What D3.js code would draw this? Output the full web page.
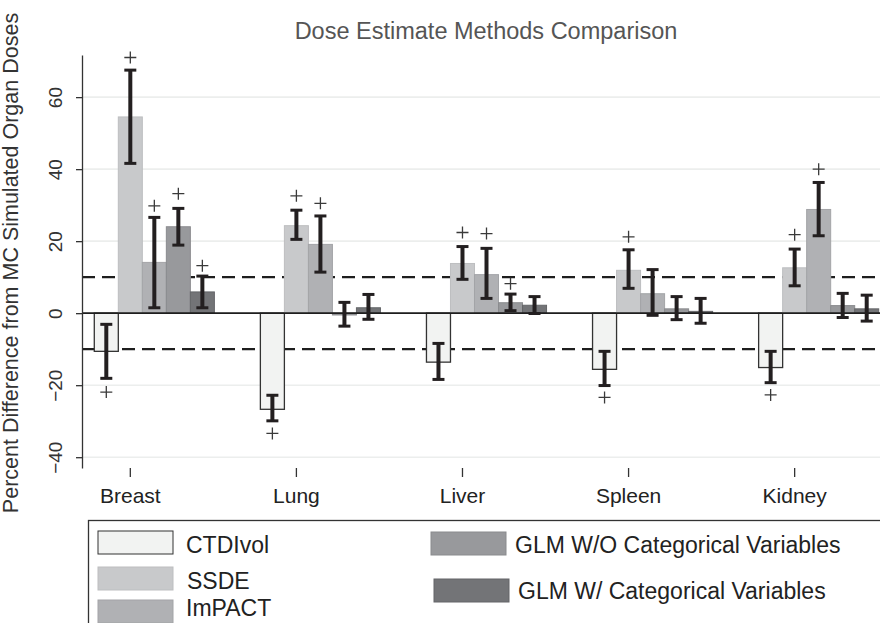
<!DOCTYPE html>
<html>
<head>
<meta charset="utf-8">
<script src="https://cdn.jsdelivr.net/npm/d3@7"></script>
<style>
  body { margin: 0; background: #fff; }
  svg { display: block; font-family: "Liberation Sans", Arial, sans-serif; }
</style>
</head>
<body>
<script>
// organs on the x axis
var organs = ["Breast", "Lung", "Liver", "Spleen", "Kidney"];
var methods = ["CTDIvol", "SSDE", "ImPACT", "GLM W/O Categorical Variables", "GLM W/ Categorical Variables"];

// mean percent difference, one array per method (same order as organs)
var ctdiVol = [-10.6, -26.7, -13.6, -15.6, -15.1];
var ssde = [54.5, 24.3, 13.8, 11.9, 12.6];
var impact = [14.1, 19.1, 10.7, 5.4, 28.8];
var glmWo = [24.0, -0.5, 2.9, 1.2, 2.1];
var glmW = [5.9, 1.5, 2.2, 0.5, 1.2];

// error bar ends
var ctdiLow = [-18.1, -29.9, -18.4, -20.1, -19.3];
var ctdiHigh = [-3.1, -22.8, -8.4, -10.6, -10.6];
var ssdeLow = [41.6, 20.5, 9.4, 6.9, 7.6];
var ssdeHigh = [67.5, 28.6, 18.5, 17.6, 17.8];
var impactLow = [1.5, 11.4, 4.1, -0.6, 21.5];
var impactHigh = [26.6, 27.0, 18.0, 12.1, 36.3];
var glmWoLow = [18.9, -3.6, 0.7, -1.8, -1.2];
var glmWoHigh = [29.1, 3.0, 5.3, 4.6, 5.5];
var glmWLow = [1.5, -1.7, -0.1, -2.8, -2.2];
var glmWHigh = [10.3, 5.2, 4.6, 4.1, 5.0];

// "+" significance markers (null = none)
var ctdiPlus = [-21.9, -33.4, null, -23.4, -22.7];
var ssdePlus = [71.0, 32.6, 22.4, 21.2, 21.8];
var impactPlus = [29.8, 30.5, 22.1, null, 40.0];
var glmWoPlus = [33.2, null, 8.2, null, null];
var glmWPlus = [13.2, null, null, null, null];

var yTicks = [-40, -20, 0, 20, 40, 60];
var refLines = [-10, 10];

var fills = ["#f2f3f2", "#c8c9cb", "#b0b1b4", "#98999c", "#737477"];
var strokes = ["#333333", "#bdbec0", "#a3a4a7", "#8a8b8e", "#646568"];

var seriesValues = [ctdiVol, ssde, impact, glmWo, glmW];
var seriesLow = [ctdiLow, ssdeLow, impactLow, glmWoLow, glmWLow];
var seriesHigh = [ctdiHigh, ssdeHigh, impactHigh, glmWoHigh, glmWHigh];
var seriesPlus = [ctdiPlus, ssdePlus, impactPlus, glmWoPlus, glmWPlus];

var rows = [];
organs.forEach(function (o, i) {
    methods.forEach(function (m, j) {
        rows.push({
            organ: o, method: m, k: j,
            v: seriesValues[j][i], lo: seriesLow[j][i], hi: seriesHigh[j][i], plus: seriesPlus[j][i]
        });
    });
});

var width = 880, height = 623;
var plotLeft = 82, plotRight = 880, plotTop = 55, plotBottom = 468;

var svg = d3.select("body").append("svg").attr("width", width).attr("height", height);

var x0 = d3.scaleBand().domain(organs).range([plotLeft, 891]).paddingInner(0.277).paddingOuter(0.074);
var x1 = d3.scaleBand().domain(methods).range([0, x0.bandwidth()]);
var y = d3.scaleLinear().domain([-43, 71.7]).range([plotBottom, plotTop]);

// light grid
svg.append("g").selectAll("line").data(yTicks).enter().append("line")
    .attr("x1", plotLeft).attr("x2", plotRight)
    .attr("y1", function (d) { return y(d); }).attr("y2", function (d) { return y(d); })
    .attr("stroke", "#eceeed").attr("stroke-width", 1.6);

// +/-10 reference lines
svg.append("g").selectAll("line").data(refLines).enter().append("line")
    .attr("x1", plotLeft).attr("x2", plotRight)
    .attr("y1", function (d) { return y(d); }).attr("y2", function (d) { return y(d); })
    .attr("stroke", "#1e1e1e").attr("stroke-width", 2.2).attr("stroke-dasharray", "13,7");

// bars
svg.append("g").selectAll("rect").data(rows).enter().append("rect")
    .attr("x", function (d) { return x0(d.organ) + x1(d.method); })
    .attr("width", x1.bandwidth())
    .attr("y", function (d) { return y(Math.max(0, d.v)); })
    .attr("height", function (d) { return Math.abs(y(d.v) - y(0)); })
    .attr("fill", function (d) { return fills[d.k]; })
    .attr("stroke", function (d) { return strokes[d.k]; })
    .attr("stroke-width", function (d) { return d.k === 0 ? 1.3 : 1; });

// zero line
svg.append("line")
    .attr("x1", plotLeft).attr("x2", plotRight).attr("y1", y(0)).attr("y2", y(0))
    .attr("stroke", "#1e1e1e").attr("stroke-width", 1.6);

// error bars
var eb = svg.append("g").selectAll("g").data(rows).enter().append("g")
    .attr("transform", function (d) { return "translate(" + (x0(d.organ) + x1(d.method) + x1.bandwidth() / 2) + ",0)"; });
eb.append("line")
    .attr("y1", function (d) { return y(d.lo); }).attr("y2", function (d) { return y(d.hi); })
    .attr("stroke", "#231f20").attr("stroke-width", 4);
eb.selectAll("line.cap").data(function (d) { return [d.lo, d.hi]; }).enter().append("line")
    .attr("class", "cap")
    .attr("x1", -6).attr("x2", 6)
    .attr("y1", function (d) { return y(d); }).attr("y2", function (d) { return y(d); })
    .attr("stroke", "#231f20").attr("stroke-width", 3);

// significance markers
var pl = svg.append("g").selectAll("g").data(rows.filter(function (d) { return d.plus !== null; })).enter().append("g")
    .attr("transform", function (d) {
        return "translate(" + (x0(d.organ) + x1(d.method) + x1.bandwidth() / 2) + "," + y(d.plus) + ")";
    });
pl.append("path").attr("d", "M-6,0H6M0,-6V6").attr("stroke", "#3a3a3a").attr("stroke-width", 1.3).attr("fill", "none");

// y axis
var yAxis = svg.append("g").attr("transform", "translate(" + plotLeft + ",0)")
    .call(d3.axisLeft(y).tickValues(yTicks).tickSize(6).tickSizeOuter(0).tickFormat(d3.format("d")));
yAxis.select(".domain").attr("stroke", "#333").attr("stroke-width", 1.3);
yAxis.selectAll(".tick line").attr("stroke", "#333").attr("stroke-width", 1.3);
yAxis.selectAll(".tick text")
    .attr("x", 0).attr("y", -20).attr("dy", null)
    .attr("transform", "rotate(-90)")
    .attr("text-anchor", "middle")
    .attr("font-size", 19).attr("fill", "#333");

// x axis: labels sit under the second bar of each group
var shift = x1(methods[1]) + x1.bandwidth() / 2 - x0.bandwidth() / 2;
var xAxis = svg.append("g").attr("transform", "translate(" + shift + "," + plotBottom + ")")
    .call(d3.axisBottom(x0).tickSize(9).tickSizeOuter(0));
xAxis.select(".domain").remove();
xAxis.selectAll(".tick line").attr("stroke", "#333").attr("stroke-width", 1.3);
xAxis.selectAll(".tick text").attr("y", 35).attr("dy", null)
    .attr("font-size", 21).attr("fill", "#222");

// titles
svg.append("text").attr("x", 486).attr("y", 39).attr("text-anchor", "middle")
    .attr("font-size", 23.5).attr("fill", "#555").text("Dose Estimate Methods Comparison");
svg.append("text").attr("transform", "translate(18,263) rotate(-90)").attr("text-anchor", "middle")
    .attr("font-size", 21.5).attr("fill", "#333").text("Percent Difference from MC Simulated Organ Doses");

// legend
svg.append("rect").attr("x", 88.5).attr("y", 520.5).attr("width", 820).attr("height", 140)
    .attr("fill", "none").attr("stroke", "#333").attr("stroke-width", 1.3);
var legendPos = [
    { sx: 98, sy: 531, tx: 186, ty: 553 },
    { sx: 98, sy: 567, tx: 187, ty: 589 },
    { sx: 98, sy: 600, tx: 186, ty: 616 },
    { sx: 431, sy: 532, tx: 515, ty: 553 },
    { sx: 434, sy: 579, tx: 518, ty: 599 }
];
var lg = svg.append("g").selectAll("g").data(methods).enter().append("g");
lg.append("rect")
    .attr("x", function (d, i) { return legendPos[i].sx; })
    .attr("y", function (d, i) { return legendPos[i].sy; })
    .attr("width", 75).attr("height", 23)
    .attr("fill", function (d, i) { return fills[i]; })
    .attr("stroke", function (d, i) { return strokes[i]; })
    .attr("stroke-width", 1);
lg.append("text")
    .attr("x", function (d, i) { return legendPos[i].tx; })
    .attr("y", function (d, i) { return legendPos[i].ty; })
    .attr("font-size", 23).attr("fill", "#222")
    .text(function (d) { return d; });
</script>
</body>
</html>
